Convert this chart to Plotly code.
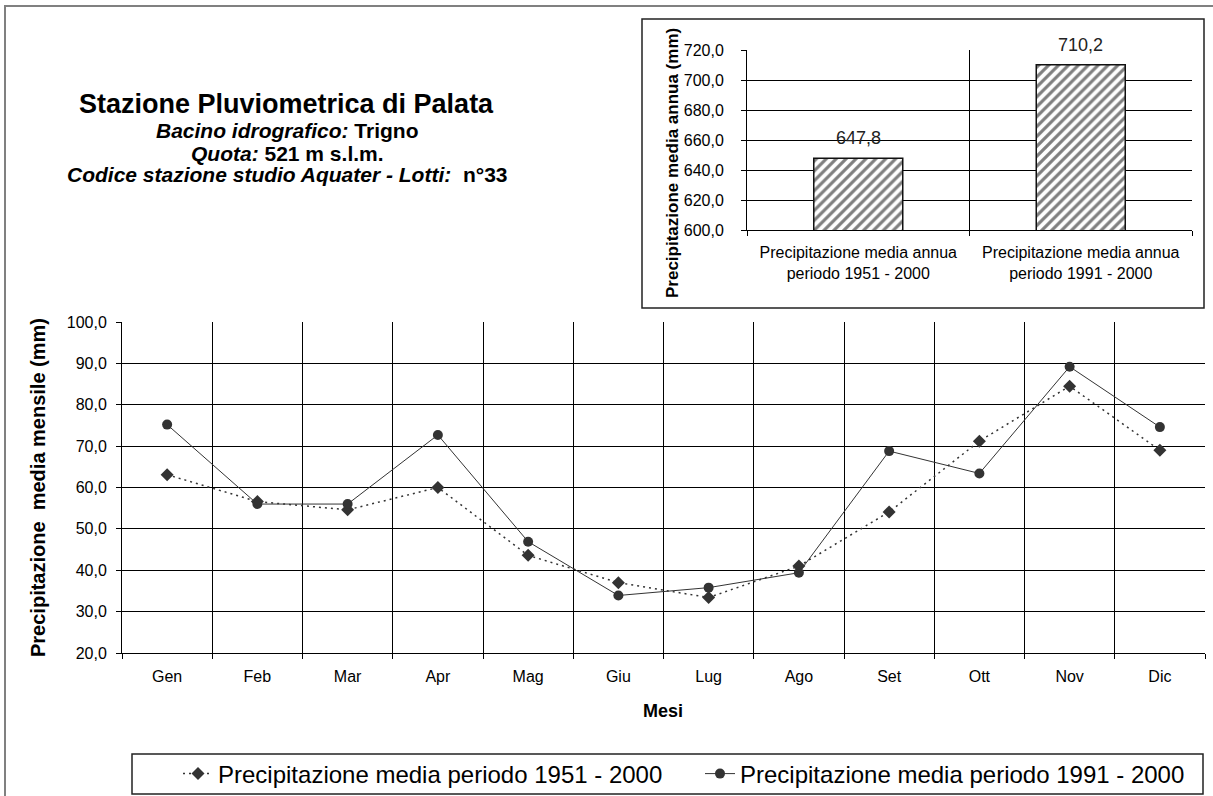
import plotly.graph_objects as go

# ---------------- data ----------------
months = ["Gen", "Feb", "Mar", "Apr", "Mag", "Giu", "Lug", "Ago", "Set", "Ott", "Nov", "Dic"]
prec_1951_2000 = [63.1, 56.6, 54.6, 60.0, 43.6, 37.0, 33.4, 41.0, 54.1, 71.2, 84.5, 69.0]
prec_1991_2000 = [75.2, 56.0, 56.0, 72.7, 46.9, 33.9, 35.8, 39.4, 68.8, 63.4, 89.2, 74.6]
series_names = ["Precipitazione media periodo 1951 - 2000",
                "Precipitazione media periodo 1991 - 2000"]

annual_labels = ["Precipitazione media annua<br>periodo 1951 - 2000",
                 "Precipitazione media annua<br>periodo 1991 - 2000"]
annual_values = [647.8, 710.2]

W, H = 1213, 796
FONT = "Liberation Sans, Arial, sans-serif"


def px(x):
    return x / W


def py(y):
    return 1 - y / H


fig = go.Figure()

# ---------------- monthly lines ----------------
fig.add_trace(go.Scatter(
    x=months, y=prec_1951_2000, name=series_names[0], mode="lines+markers",
    line=dict(color="#333333", width=1.5, dash="2px,4px"),
    marker=dict(symbol="diamond", size=10, color="#333333"),
    xaxis="x", yaxis="y", cliponaxis=False,
))
fig.add_trace(go.Scatter(
    x=months, y=prec_1991_2000, name=series_names[1], mode="lines+markers",
    line=dict(color="#333333", width=1),
    marker=dict(symbol="circle", size=10, color="#333333"),
    xaxis="x", yaxis="y", cliponaxis=False,
))

# ---------------- annual bars ----------------
fig.add_trace(go.Bar(
    x=annual_labels, y=annual_values, showlegend=False, width=0.4,
    marker=dict(color="white", line=dict(color="#111111", width=1.5),
                pattern=dict(shape="/", fgcolor="#000000", bgcolor="white",
                             size=7, solidity=0.45)),
    xaxis="x2", yaxis="y2",
))

for lab, val in zip(annual_labels, annual_values):
    fig.add_annotation(
        x=lab, y=val, xref="x2", yref="y2", text=f"{val:.1f}".replace(".", ","),
        showarrow=False, xanchor="center", yanchor="bottom", yshift=8,
        font=dict(family=FONT, size=18, color="#222222"),
    )

axis_common = dict(
    showgrid=True, gridcolor="#000000", gridwidth=1,
    showline=True, linecolor="#000000", linewidth=1,
    ticks="outside", ticklen=5, tickcolor="#000000",
    zeroline=False, color="#000000",
)

fig.update_layout(
    width=W, height=H,
    margin=dict(l=0, r=0, t=0, b=0, autoexpand=False),
    paper_bgcolor="white", plot_bgcolor="white",
    separators=",.",
    font=dict(family=FONT, color="#000000"),
    xaxis=dict(domain=[px(122), px(1205)], anchor="y", type="category",
               tickson="boundaries", range=[-0.5, 11.5],
               tickfont=dict(size=16), ticklabelstandoff=9, **axis_common),
    yaxis=dict(domain=[py(653), py(322)], anchor="x", range=[20, 100], dtick=10,
               tickformat=".1f", tickfont=dict(size=16), ticklabelstandoff=6,
               **axis_common),
    xaxis2=dict(domain=[px(747), px(1192)], anchor="y2", type="category",
                tickson="boundaries", range=[-0.5, 1.5],
                tickfont=dict(size=16), ticklabelstandoff=8, **axis_common),
    yaxis2=dict(domain=[py(230), py(50)], anchor="x2", range=[600, 720], dtick=20,
                tickformat=".1f", tickfont=dict(size=16), ticklabelstandoff=14,
                **axis_common),
    legend=dict(orientation="h", x=px(178), xanchor="left", y=py(774), yanchor="middle",
                bgcolor="rgba(0,0,0,0)", borderwidth=0,
                font=dict(family=FONT, size=24, color="#000000"),
                entrywidth=477, itemwidth=30),
    showlegend=True,
)

# ---------------- frames ----------------
shapes = [
    # outer frame
    dict(type="rect", xref="paper", yref="paper", x0=px(5), x1=px(1240), y0=py(820), y1=py(6),
         line=dict(color="#808080", width=2), fillcolor="rgba(0,0,0,0)", layer="below"),
    # bar chart frame
    dict(type="rect", xref="paper", yref="paper", x0=px(642), x1=px(1204), y0=py(308), y1=py(19),
         line=dict(color="#222222", width=1.5), fillcolor="rgba(0,0,0,0)"),
    # legend frame
    dict(type="rect", xref="paper", yref="paper", x0=px(132), x1=px(1203), y0=py(794), y1=py(754),
         line=dict(color="#222222", width=1.5), fillcolor="rgba(0,0,0,0)"),
]
fig.update_layout(shapes=shapes)

# ---------------- texts ----------------
def label(x, y, text, size, angle=0):
    fig.add_annotation(x=px(x), y=py(y), xref="paper", yref="paper", showarrow=False,
                       xanchor="center", yanchor="middle", textangle=angle, text=text,
                       font=dict(family=FONT, size=size, color="#000000"))


label(286, 104, "<b>Stazione Pluviometrica di Palata</b>", 27)
sub_lines = ["<b><i>Bacino idrografico:</i> Trigno</b>",
             "<b><i>Quota:</i> 521 m s.l.m.</b>",
             "<b><i>Codice stazione studio Aquater - Lotti:</i>  n°33</b>"]
for i, t in enumerate(sub_lines):
    label(287, 131 + 22 * i, t, 21)

label(38, 488, "<b>Precipitazione  media mensile (mm)</b>", 20, -90)
label(663, 711, "<b>Mesi</b>", 18)
label(672, 163, "<b>Precipitazione media annua (mm)</b>", 17, -90)

fig.write_html("out.html", config={"displayModeBar": False},
               post_script="document.body.style.margin='0px';document.body.style.overflow='hidden';")
